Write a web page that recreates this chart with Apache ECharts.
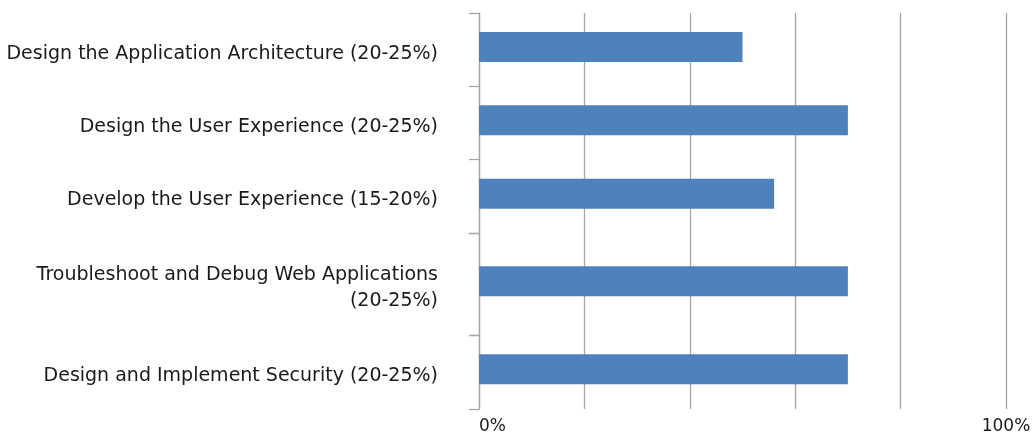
<!DOCTYPE html>
<html>
<head>
<meta charset="utf-8">
<script src="https://cdn.jsdelivr.net/npm/echarts@6/dist/echarts.min.js"></script>
<style>
html,body{margin:0;padding:0;background:#fff;}
#chart{width:1035px;height:436px;}
</style>
</head>
<body>
<div id="chart"></div>
<script>
const categories = [
  "Design the Application Architecture (20-25%)",
  "Design the User Experience (20-25%)",
  "Develop the User Experience (15-20%)",
  "Troubleshoot and Debug Web Applications (20-25%)",
  "Design and Implement Security (20-25%)"
];
const values = [50, 70, 56, 70, 70];
const xTickLabels = ["0%", "100%"];

// layout: which categories go in which stacked band group (Excel gave the wrapped label more room)
const groups = [[0, 1, 2], [3], [4]];
const bands = [
  { top: 13, height: 220, wrap: false },
  { top: 233, height: 102, wrap: true },
  { top: 335, height: 74, wrap: false }
];
const BAR_SHIFT = -2.7;  // Excel draws the bars slightly above the band centre
const LABEL_SHIFT = 4;   // ...and the category labels slightly below it

const FONT = "'DejaVu Sans', sans-serif";
const GRID_COLOR = '#a6a6a6';
const grids = [], xAxes = [], yAxes = [], series = [];
const n = groups.length;

function addGrid(top, height) {
  grids.push({ left: 479, right: 29, top: top, height: height, containLabel: false, outerBoundsMode: 'none' });
  return grids.length - 1;
}

// frame grids: axis line, ticks, gridlines, x labels
groups.forEach((idx, g) => {
  const b = bands[g];
  const last = g === n - 1;
  const gi = addGrid(b.top, b.height);
  xAxes.push({
    type: 'value', gridIndex: gi, min: 0, max: 100, interval: 20,
    axisLine: { show: false }, axisTick: { show: false },
    splitLine: { show: true, lineStyle: { color: GRID_COLOR, width: 1.3 } },
    axisLabel: {
      show: last, margin: 9, fontFamily: FONT, fontSize: 17, color: '#1a1a1a',
      alignMinLabel: 'left',
      formatter: v => v === 0 ? xTickLabels[0] : (v === 100 ? xTickLabels[1] : '')
    }
  });
  yAxes.push({
    type: 'category', gridIndex: gi, inverse: true,
    data: idx.map(i => categories[i]),
    axisLine: { show: true, lineStyle: { color: GRID_COLOR, width: 1.3 } },
    axisTick: { show: true, length: 10, lineStyle: { color: GRID_COLOR, width: 1.3 } },
    axisLabel: { show: false }
  });
});

// label grids: category labels only
groups.forEach((idx, g) => {
  const b = bands[g];
  const gi = addGrid(b.top + LABEL_SHIFT, b.height);
  xAxes.push({ type: 'value', gridIndex: gi, min: 0, max: 100, interval: 20, show: false });
  yAxes.push({
    type: 'category', gridIndex: gi, inverse: true,
    data: idx.map(i => categories[i]),
    axisLine: { show: false }, axisTick: { show: false },
    axisLabel: {
      margin: 41, fontFamily: FONT, fontSize: 19, color: '#1a1a1a',
      lineHeight: 26, align: 'right',
      formatter: s => b.wrap ? s.replace(' (', '\n(') : s
    }
  });
});

// bar grids
groups.forEach((idx, g) => {
  const b = bands[g];
  const gi = addGrid(b.top + BAR_SHIFT, b.height);
  xAxes.push({ type: 'value', gridIndex: gi, min: 0, max: 100, interval: 20, show: false });
  yAxes.push({ type: 'category', gridIndex: gi, inverse: true, data: idx.map(i => categories[i]), show: false });
  series.push({
    type: 'bar', xAxisIndex: gi, yAxisIndex: gi,
    data: idx.map(i => values[i]),
    barWidth: 30,
    itemStyle: { color: '#4f81bd' },
    silent: true
  });
});

const chart = echarts.init(document.getElementById('chart'), null, { renderer: 'canvas' });
chart.setOption({
  animation: false,
  backgroundColor: '#ffffff',
  grid: grids, xAxis: xAxes, yAxis: yAxes, series: series
});
</script>
</body>
</html>
